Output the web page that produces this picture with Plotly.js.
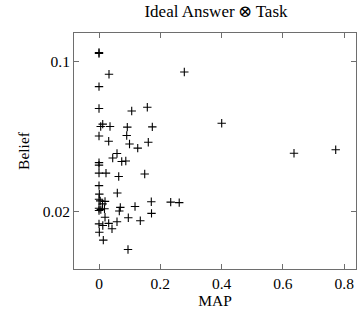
<!DOCTYPE html>
<html>
<head>
<meta charset="utf-8">
<script src="https://cdn.plot.ly/plotly-3.0.1.min.js"></script>
<style>html,body{margin:0;padding:0;background:#fff;}#chart{width:357px;height:318px;}</style>
</head>
<body>
<div id="chart"></div>
<script>
const mapValues = [0, 0, 0.0326, 0, 0, 0.1067, 0.1576, 0.2783, 0.0055, 0.0121, 0.0359, 0.0923, 0.1739, 0.4003,
  0, 0.0904, 0.0316, 0.0995, 0.1608, 0.1263, 0.0587, 0.0447, 0.0741, 0.0874, 0, 0, 0, 0.0228, 0.0643, 0.1491,
  0, 0.001, 0.0597, 0, 0.0039, 0.0196, 0.0114, 0.1706, 0.2339, 0.2617, 0, 0.0059, 0, 0.0179, 0.0695, 0.0662,
  0.1175, 0.1713, 0.0196, 0.0956, 0.1347, 0, 0.0124, 0.0316, 0.0587, 0.0424, 0.001, 0.014, 0.0946, 0.6362, 0.7723];
const beliefValues = [0.1104, 0.1092, 0.0874, 0.0765, 0.0605, 0.0589, 0.0613, 0.0895, 0.0498, 0.0511, 0.0498, 0.0495, 0.0496, 0.0516,
  0.0450, 0.0452, 0.0425, 0.0413, 0.0421, 0.0395, 0.0373, 0.0355, 0.0342, 0.0344, 0.0338, 0.0329, 0.0302, 0.0302, 0.0291, 0.0299,
  0.0264, 0.0241, 0.0244, 0.0228, 0.0224, 0.0223, 0.0217, 0.0222, 0.0221, 0.0220, 0.0207, 0.0204, 0.0202, 0.0206, 0.0209, 0.0201,
  0.0211, 0.0196, 0.0188, 0.0187, 0.0181, 0.0175, 0.0172, 0.0176, 0.0179, 0.0166, 0.0160, 0.0147, 0.0133, 0.0374, 0.0388];
const xTickVals = [0, 0.2, 0.4, 0.6, 0.8];
const xTickText = ['0', '0.2', '0.4', '0.6', '0.8'];
const yTickVals = [0.02, 0.1];
const yTickText = ['0.02', '0.1'];

const family = '"Liberation Serif", "DejaVu Serif", serif';
const font = {family: family, size: 15.5, color: '#000'};
const axisCommon = {
  showline: true, linecolor: '#6e6e6e', linewidth: 1, mirror: 'ticks',
  ticks: 'inside', ticklen: 5, tickcolor: '#6e6e6e', tickwidth: 1,
  showgrid: false, zeroline: false, tickfont: font
};
Plotly.newPlot('chart', [{
  x: mapValues, y: beliefValues, type: 'scatter', mode: 'markers',
  marker: {symbol: 'cross-thin', size: 6, line: {width: 1.1, color: '#000'}, color: '#000'},
  hoverinfo: 'none'
}], {
  width: 357, height: 318,
  margin: {l: 74, r: 1, t: 33, b: 49},
  paper_bgcolor: '#fff', plot_bgcolor: '#fff',
  font: font,
  showlegend: false,
  title: {text: 'Ideal Answer\u2009⊗\u2009Task', font: {family: family, size: 17, color: '#000'}, x: 0.605, xanchor: 'center', y: 0.964, yanchor: 'middle'},
  xaxis: Object.assign({}, axisCommon, {
    range: [-0.0816, 0.8385], tickvals: xTickVals, ticktext: xTickText,
    title: {text: 'MAP', font: font, standoff: 4}
  }),
  yaxis: Object.assign({}, axisCommon, {
    type: 'log', range: [-1.9674, -0.8663], tickvals: yTickVals, ticktext: yTickText,
    title: {text: 'Belief', font: font, standoff: 9}
  })
}, {staticPlot: true, displayModeBar: false});
</script>
</body>
</html>
